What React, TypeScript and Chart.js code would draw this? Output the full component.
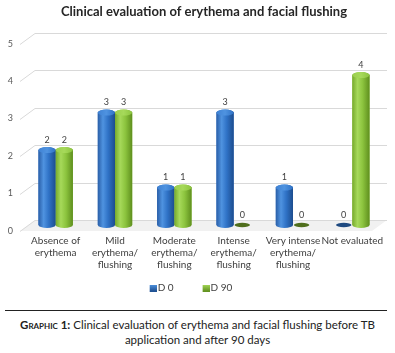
import React, { useEffect, useRef } from "react";
import { Chart, registerables } from "chart.js";
Chart.register(...registerables);

const categories: string[][] = [
  ["Absence of", "erythema"],
  ["Mild", "erythema/", "flushing"],
  ["Moderate", "erythema/", "flushing"],
  ["Intense", "erythema/", "flushing"],
  ["Very intense", "erythema/", "flushing"],
  ["Not evaluated"],
];
const d0Values = [2, 3, 1, 3, 1, 0];
const d90Values = [2, 3, 1, 0, 0, 4];
const seriesNames = ["D 0", "D 90"];
const yMax = 5;

const palettes = [
  { base: "#2e6fc4", edge: "#2a5fa8", light: "#4f93e0", mid: "#2f72c6", dark: "#1d4d8e", cap: "#3f82d4", flat: "#1f4a80" },
  { base: "#8cc43e", edge: "#77aa2c", light: "#a6d95a", mid: "#8cc43e", dark: "#5f8f1e", cap: "#9ccf4e", flat: "#4f6e1c" },
];

const FONT = "Lato, 'Open Sans', sans-serif";
const LEGEND_BOX = 19;
const SHIFT = 16; // canvas starts this many px left of the page edge

function makeLegendSwatch(pal: any) {
  const c = document.createElement("canvas");
  c.width = LEGEND_BOX + 8;
  c.height = 7;
  const g = c.getContext("2d")!;
  const x0 = c.width - 7;
  const grad = g.createLinearGradient(0, 0, 0, 7);
  grad.addColorStop(0, pal.light);
  grad.addColorStop(1, pal.dark);
  g.fillStyle = grad;
  g.fillRect(x0, 0, 7, 7);
  return c;
}

const gridPlugin = {
  id: "grid3d",
  beforeDatasetsDraw(chart: any) {
    const { ctx, chartArea } = chart;
    const ys = chart.scales.y;
    ctx.save();
    const y0 = ys.getPixelForValue(0);
    ctx.fillStyle = "#f1f1f1";
    ctx.beginPath();
    ctx.moveTo(chartArea.left - 6, y0 + 6);
    ctx.lineTo(chartArea.left + 9, y0 - 5);
    ctx.lineTo(chartArea.right + 5, y0 - 5);
    ctx.lineTo(chartArea.right - 10, y0 + 6);
    ctx.closePath();
    ctx.fill();
    ctx.strokeStyle = "#d9d9d9";
    ctx.lineWidth = 1;
    ys.ticks.forEach((t: any) => {
      const py = Math.round(ys.getPixelForValue(t.value)) + 0.5;
      ctx.beginPath();
      ctx.moveTo(chartArea.left - 6, py + 6);
      ctx.lineTo(chartArea.left + 9, py - 5);
      ctx.lineTo(chartArea.right + 5, py - 5);
      ctx.stroke();
    });
    ctx.restore();
  },
};

const cylinderPlugin = {
  id: "cylinders",
  afterDatasetsDraw(chart: any) {
    const ctx = chart.ctx;
    chart.data.datasets.forEach((ds: any, di: number) => {
      const meta = chart.getDatasetMeta(di);
      const pal = palettes[di];
      meta.data.forEach((bar: any, i: number) => {
        const { x, y, base, width } = bar.getProps(["x", "y", "base", "width"], true);
        const rx = width / 2;
        const ry = 3;
        const left = x - rx;
        const right = x + rx;
        const v = ds.data[i];
        ctx.save();
        if (v === 0) {
          ctx.fillStyle = pal.flat;
          ctx.beginPath();
          ctx.ellipse(x, base, rx * 0.9, 2.2, 0, 0, Math.PI * 2);
          ctx.fill();
        } else {
          const g = ctx.createLinearGradient(left, 0, right, 0);
          g.addColorStop(0, pal.edge);
          g.addColorStop(0.3, pal.light);
          g.addColorStop(0.6, pal.mid);
          g.addColorStop(1, pal.dark);
          ctx.fillStyle = g;
          ctx.beginPath();
          ctx.moveTo(left, y);
          ctx.lineTo(left, base);
          ctx.ellipse(x, base, rx, ry, 0, Math.PI, 0, true);
          ctx.lineTo(right, y);
          ctx.ellipse(x, y, rx, ry, 0, 0, Math.PI, true);
          ctx.closePath();
          ctx.fill();
          const g2 = ctx.createLinearGradient(left, 0, right, 0);
          g2.addColorStop(0, pal.cap);
          g2.addColorStop(0.5, pal.light);
          g2.addColorStop(1, pal.mid);
          ctx.fillStyle = g2;
          ctx.beginPath();
          ctx.ellipse(x, y, rx, ry, 0, 0, Math.PI * 2);
          ctx.fill();
        }
        ctx.fillStyle = "#404040";
        ctx.font = `9px ${FONT}`;
        ctx.textAlign = "center";
        ctx.textBaseline = "middle";
        ctx.fillText(String(v), x, y - 10);
        ctx.restore();
      });
    });
  },
};

export default function App() {
  const ref = useRef<HTMLCanvasElement>(null);
  useEffect(() => {
    if (!ref.current) return;
    const chart = new Chart(ref.current, {
      type: "bar",
      data: {
        labels: categories,
        datasets: [
          { label: seriesNames[0], data: d0Values, backgroundColor: palettes[0].base, borderWidth: 0, pointStyle: makeLegendSwatch(palettes[0]) },
          { label: seriesNames[1], data: d90Values, backgroundColor: palettes[1].base, borderWidth: 0, pointStyle: makeLegendSwatch(palettes[1]) },
        ],
      },
      options: {
        animation: false,
        responsive: false,
        maintainAspectRatio: false,
        layout: { padding: { left: 0, right: 13, top: 0, bottom: 0 } },
        datasets: { bar: { categoryPercentage: 0.58, barPercentage: 1 } },
        scales: {
          x: {
            grid: { display: false, drawTicks: false },
            border: { display: false },
            ticks: {
              color: "#404040",
              font: { family: FONT, size: 10, lineHeight: "12px" },
              padding: 10,
              maxRotation: 0,
              autoSkip: false,
            },
            afterFit: (s: any) => { s.height = 45; },
          },
          y: {
            min: 0,
            max: yMax,
            grid: { display: false, drawTicks: false },
            border: { display: false },
            ticks: {
              stepSize: 1,
              color: "#595959",
              font: { family: FONT, size: 9 },
              padding: 13,
              labelOffset: 6,
            },
            afterFit: (s: any) => { s.width = 26 + SHIFT; },
          },
        },
        plugins: {
          title: {
            display: true,
            fullSize: false,
            text: "Clinical evaluation of erythema and facial flushing",
            color: "#262626",
            font: { family: FONT, size: 13, weight: "bold" },
            padding: { top: 4, bottom: 18 },
          },
          legend: {
            position: "bottom",
            labels: {
              usePointStyle: true,
              pointStyleWidth: LEGEND_BOX,
              boxHeight: 7,
              color: "#404040",
              font: { family: FONT, size: 10 },
              padding: 13,
            },
          },
          tooltip: { enabled: false },
        },
      },
      plugins: [gridPlugin, cylinderPlugin],
    });
    return () => chart.destroy();
  }, []);

  return (
    <div style={{ position: "absolute", left: 0, top: 0, width: 395, height: 353, background: "#fff", fontFamily: FONT, overflow: "hidden" }}>
      <canvas ref={ref} width={395 + SHIFT} height={303} style={{ position: "absolute", left: -SHIFT, top: 0, display: "block", width: 395 + SHIFT, height: 303 }} />
      <div style={{ position: "absolute", left: 5, top: 310, width: 382, height: 1, background: "#222" }} />
      <div style={{ position: "absolute", left: 0, top: 317, width: 395, textAlign: "center", fontSize: 11.5, lineHeight: "15px", color: "#222" }}>
        <span style={{ fontVariant: "small-caps", fontWeight: "bold" }}>Graphic 1:</span> Clinical evaluation of erythema and facial flushing before TB
        <br />
        application and after 90 days
      </div>
    </div>
  );
}
